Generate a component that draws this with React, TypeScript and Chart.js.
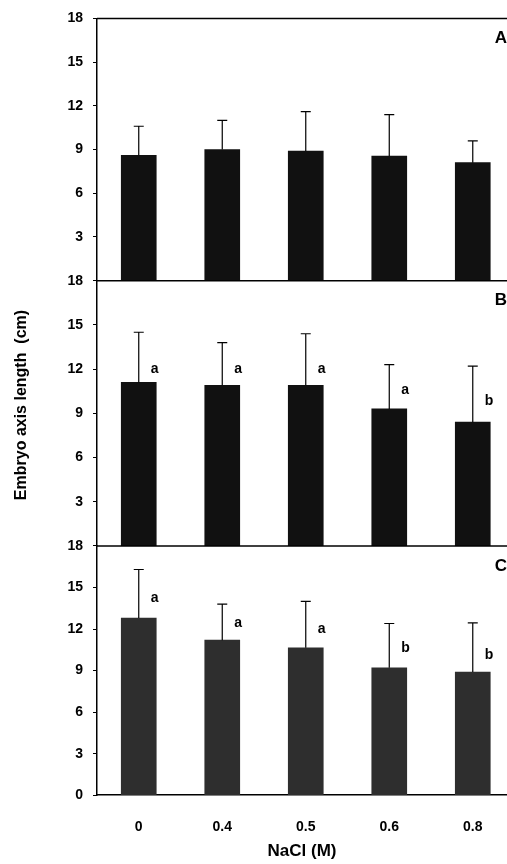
import { useEffect, useRef } from 'react';
import { Chart, registerables } from 'chart.js';

Chart.register(...registerables);

const doses = ['0', '0.4', '0.5', '0.6', '0.8'];

// 패널별 평균값과 오차 막대 윗끝
const meanA = [8.6, 9.0, 8.9, 8.55, 8.1];
const errTopA = [10.6, 11.0, 11.6, 11.4, 9.6];

const meanB = [11.1, 10.9, 10.9, 9.3, 8.4];
const errTopB = [14.5, 13.8, 14.4, 12.3, 12.2];
const lettersB = ['a', 'a', 'a', 'a', 'b'];
const letterYB = [12.0, 12.0, 12.0, 10.6, 9.8];

const meanC = [12.8, 11.2, 10.65, 9.2, 8.9];
const errTopC = [16.3, 13.8, 14.0, 12.4, 12.45];
const lettersC = ['a', 'a', 'a', 'b', 'b'];
const letterYC = [14.2, 12.4, 12.0, 10.65, 10.1];

const yTicks = [0, 3, 6, 9, 12, 15, 18];

const FONT = 'Arial, "Liberation Sans", sans-serif';

// 스택 축은 먼저 정의한 것이 아래쪽에 놓임
const panels = [
  { id: 'yC', mean: meanC, err: errTopC, letters: lettersC, letterY: letterYC, color: '#2e2e2e', name: 'C', weight: 248 },
  { id: 'yB', mean: meanB, err: errTopB, letters: lettersB, letterY: letterYB, color: '#111111', name: 'B', weight: 264 },
  { id: 'yA', mean: meanA, err: errTopA, letters: [] as string[], letterY: [] as number[], color: '#111111', name: 'A', weight: 261 },
];

const extras = {
  id: 'extras',
  afterDatasetsDraw(chart: any) {
    const ctx = chart.ctx;
    const x = chart.scales.x;
    const area = chart.chartArea;
    ctx.save();
    ctx.strokeStyle = '#000';
    ctx.fillStyle = '#000';
    panels.forEach(p => {
      const y = chart.scales[p.id];
      // 패널 윗선
      ctx.lineWidth = 1.5;
      ctx.beginPath();
      ctx.moveTo(area.left, y.top);
      ctx.lineTo(area.right, y.top);
      ctx.stroke();
      // 오차 막대
      ctx.lineWidth = 1.2;
      p.mean.forEach((m, i) => {
        const cx = x.getPixelForValue(i);
        const y0 = y.getPixelForValue(m);
        const y1 = y.getPixelForValue(p.err[i]);
        ctx.beginPath();
        ctx.moveTo(cx, y0);
        ctx.lineTo(cx, y1);
        ctx.moveTo(cx - 5, y1);
        ctx.lineTo(cx + 5, y1);
        ctx.stroke();
      });
      ctx.font = `bold 14px ${FONT}`;
      ctx.textAlign = 'left';
      ctx.textBaseline = 'middle';
      p.letters.forEach((l, i) => {
        ctx.fillText(l, x.getPixelForValue(i) + 12, y.getPixelForValue(p.letterY[i]));
      });
      ctx.font = `bold 17px ${FONT}`;
      ctx.textAlign = 'right';
      ctx.fillText(p.name, area.right, y.top + 20);
    });
    // x축 제목
    ctx.font = `bold 17px ${FONT}`;
    ctx.textAlign = 'center';
    ctx.fillText('NaCl (M)', 302, 851);
    // y축 제목
    ctx.font = `bold 16px ${FONT}`;
    ctx.translate(22, 405);
    ctx.rotate(-Math.PI / 2);
    ctx.fillText('Embryo axis length  (cm)', 0, 0);
    ctx.restore();
  },
};

export default function App() {
  const canvasRef = useRef<HTMLCanvasElement>(null);

  useEffect(() => {
    if (!canvasRef.current) return;
    const scales: any = {
      x: {
        type: 'linear',
        offset: false,
        min: -0.5,
        max: 4.41,
        afterBuildTicks: (s: any) => { s.ticks = doses.map((_, i) => ({ value: i })); },
        ticks: {
          callback: (v: any) => doses[v],
          color: '#000',
          font: { family: FONT, size: 14, weight: 'bold' },
          padding: 24,
        },
        grid: { display: false, tickLength: 0 },
        border: { color: '#000', width: 1.5 },
      },
    };
    panels.forEach(p => {
      scales[p.id] = {
        type: 'linear',
        position: 'left',
        stack: 'panels',
        stackWeight: p.weight,
        min: 0,
        max: 18,
        afterBuildTicks: (s: any) => {
          s.ticks = yTicks.filter(t => p.id === 'yC' || t !== 0).map(t => ({ value: t }));
        },
        afterFit: (s: any) => { s.width = 97; },
        ticks: {
          color: '#000',
          font: { family: FONT, size: 14, weight: 'bold' },
          padding: 10,
        },
        grid: { drawOnChartArea: false, tickLength: 4, color: '#000' },
        border: { color: '#000', width: 1.5 },
      };
    });
    const chart = new Chart(canvasRef.current, {
      type: 'bar',
      data: {
        datasets: panels.map(p => ({
          label: p.name,
          data: p.mean.map((v, i) => ({ x: i, y: v })),
          yAxisID: p.id,
          backgroundColor: p.color,
          barThickness: 35,
          grouped: false,
        })),
      },
      options: {
        animation: false,
        responsive: false,
        layout: { padding: { top: 14, right: 0, bottom: 4, left: 0 } },
        plugins: { legend: { display: false }, tooltip: { enabled: false } },
        scales,
      } as any,
      plugins: [extras],
    });
    return () => chart.destroy();
  }, []);

  return (
    <div style={{ position: 'absolute', left: 0, top: 0, width: 507, height: 864, background: '#fff' }}>
      <canvas ref={canvasRef} width={507} height={864} style={{ width: 507, height: 864 }} />
    </div>
  );
}
